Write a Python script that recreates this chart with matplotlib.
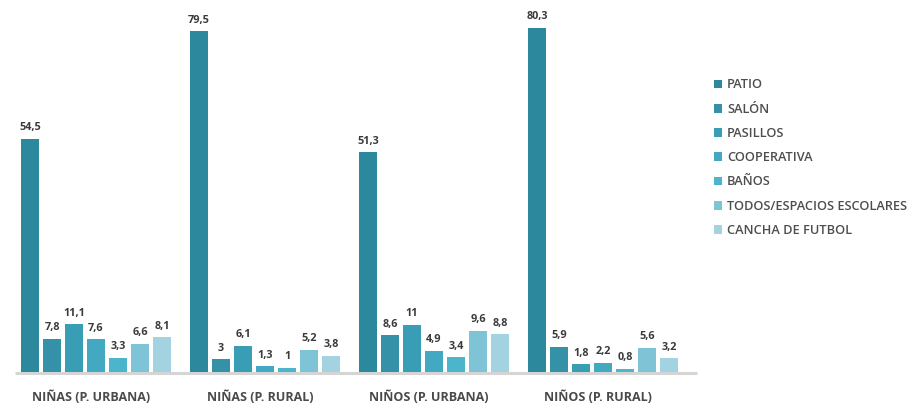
import matplotlib
matplotlib.use("Agg")
import matplotlib.pyplot as plt
from matplotlib.patches import Patch

# Lugares de la escuela por grupo (%)
grupos = ["NIÑAS (P. URBANA)", "NIÑAS (P. RURAL)", "NIÑOS (P. URBANA)", "NIÑOS (P. RURAL)"]
lugares = ["PATIO", "SALÓN", "PASILLOS", "COOPERATIVA", "BAÑOS",
           "TODOS/ESPACIOS ESCOLARES", "CANCHA DE FUTBOL"]

patio = [54.5, 79.5, 51.3, 80.3]
salon = [7.8, 3, 8.6, 5.9]
pasillos = [11.1, 6.1, 11, 1.8]
cooperativa = [7.6, 1.3, 4.9, 2.2]
banos = [3.3, 1, 3.4, 0.8]
todos = [6.6, 5.2, 9.6, 5.6]
cancha = [8.1, 3.8, 8.8, 3.2]

series = [patio, salon, pasillos, cooperativa, banos, todos, cancha]
colores = ["#2c889c", "#3491a7", "#3a9db6", "#43a9c2", "#4cb4cb", "#7fc3d7", "#a3d3e1"]

W, H = 913, 412
fig = plt.figure(figsize=(W / 100, H / 100), dpi=100)
fig.patch.set_facecolor("white")

# axes laid out in pixel units: x 0..700, baseline 40 px above the bottom
ax = fig.add_axes([0, 40 / H, 700 / W, 372 / H])
ax.set_xlim(0, 700)
escala = 344 / 80.3
ax.set_ylim(0, 372 / escala)
ax.axis("off")

paso_grupo = 169
paso_barra = 22
ancho = 18
inicio = 30

handles = []
for i, (vals, col, nombre) in enumerate(zip(series, colores, lugares)):
    xs = [inicio + g * paso_grupo + i * paso_barra for g in range(len(grupos))]
    bars = ax.bar(xs, vals, width=ancho, color=col, linewidth=0)
    ax.bar_label(bars, labels=[f"{v:g}".replace(".", ",") for v in vals],
                 padding=4, fontsize=7.8, fontweight="bold", color="#3a3a3a",
                 family="Open Sans")
    handles.append(Patch(facecolor=col, edgecolor="none", label=nombre))

# baseline
ax.plot([15, 697], [-0.3, -0.3], color="#d5d5d5", lw=2.2, solid_capstyle="butt",
        clip_on=False, zorder=0)

# group labels
for g, nombre in enumerate(grupos):
    cx = inicio + g * paso_grupo + 3 * paso_barra
    fig.text((cx - 5) / W, 1 - 397 / H, nombre, ha="center", va="center",
             fontsize=9.0, color="#4a4a4a", family="Open Sans", fontweight="bold")

leg = fig.legend(handles=handles, loc="upper left",
                 bbox_to_anchor=(702 / W, 1 - 67 / H), frameon=False,
                 handlelength=0.68, handleheight=0.68,
                 handletextpad=0.38, labelspacing=0.88,
                 prop={"family": "Open Sans", "size": 9.2, "weight": "semibold"})
for t in leg.get_texts():
    t.set_color("#4d4d4d")

fig.savefig("out.png", dpi=100, facecolor="white")
